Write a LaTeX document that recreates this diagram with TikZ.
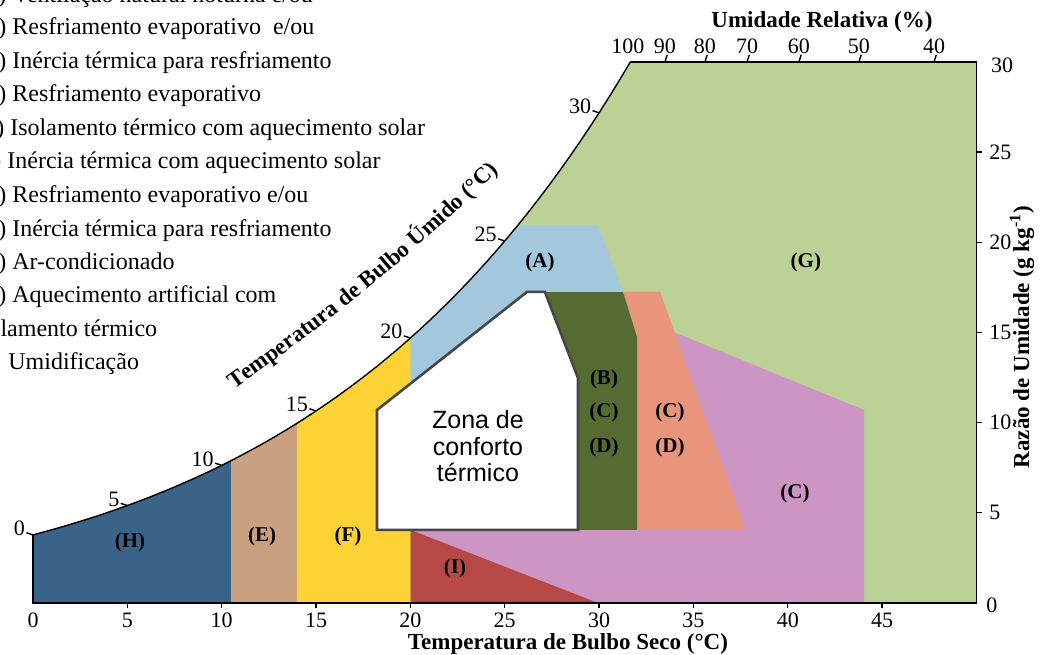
\documentclass[tikz,border=0pt]{standalone}
\usepackage{fontspec}
\setmainfont{Liberation Serif}
\newfontfamily\zonafont{Liberation Sans}
\usetikzlibrary{decorations.text}

\definecolor{corG}{RGB}{188,209,150}
\definecolor{corA}{RGB}{163,200,222}
\definecolor{corB}{RGB}{86,107,50}
\definecolor{corCD}{RGB}{233,149,123}
\definecolor{corC}{RGB}{205,149,196}
\definecolor{corE}{RGB}{201,161,129}
\definecolor{corF}{RGB}{252,210,52}
\definecolor{corH}{RGB}{58,99,136}
\definecolor{corI}{RGB}{182,72,70}

\begin{document}
\begin{tikzpicture}[x=9.435pt,y=9.015pt,
  declare function={psat(\t)=0.6108*exp(17.27*\t/(\t+237.3));
                    wsat(\t)=622*psat(\t)/(101.325-psat(\t));},
  frame/.style={black,line width=0.7pt},
  conforto/.style={fill=white,draw=gray!55!black,line width=1.3pt},
  zona/.style={font=\zonafont\fontsize{12.5}{13.3}\selectfont,align=center},
  regiao/.style={font=\bfseries\fontsize{10.5}{12}\selectfont},
  numero/.style={font=\fontsize{11}{12}\selectfont,inner sep=1pt},
  titulo/.style={font=\bfseries\fontsize{11.5}{13}\selectfont},
  legenda/.style={anchor=base west,inner sep=0pt,font=\fontsize{12}{14}\selectfont}]

\useasboundingbox (-1.749,-2.884) rectangle (53.42,33.44);

	% zonas bioclimaticas
\fill[corG] (0,0) -- plot[domain=0:31.65,samples=60] (\x,{wsat(\x)}) -- (50,30) -- (50,0) -- cycle;
\fill[corC] (20,4.05) -- (37.77,4.05) -- (34.0,15.0) -- (44.04,10.70) -- (44.04,0) -- (29.94,0) -- cycle;
\fill[corI] (20,4.05) -- (29.94,0) -- (20,0) -- cycle;
\fill[corCD] (31.27,17.25) -- (33.23,17.25) -- (37.77,4.05) -- (32.01,4.05) -- (32.01,14.75) -- cycle;
\fill[corB] (27.13,17.25) -- (31.27,17.25) -- (32.01,14.75) -- (32.01,4.05) -- (28.88,4.05) -- (28.88,12.48) -- cycle;
\fill[corA] (20,12.16) -- plot[domain=20:25.70,samples=20] (\x,{wsat(\x)}) -- (29.94,20.96) -- (31.27,17.25) -- (26.18,17.25) -- cycle;
\fill[corH] (0,0) -- plot[domain=0:10.5,samples=30] (\x,{wsat(\x)}) -- (10.5,0) -- cycle;
\fill[corE] (10.5,0) -- plot[domain=10.5:14,samples=15] (\x,{wsat(\x)}) -- (14,0) -- cycle;
\fill[corF] (14,0) -- plot[domain=14:20,samples=20] (\x,{wsat(\x)}) -- (20,0) -- cycle;

	% zona de conforto
\draw[conforto] (18.23,4.05) -- (18.23,10.70) -- (26.18,17.25) -- (27.13,17.25) -- (28.88,12.48) -- (28.88,4.05) -- cycle;
\node[zona] (zona) at (23.58,8.68) {Zona de\\conforto\\térmico};

	% contorno e curva de saturacao
\draw[frame] (0,{wsat(0)}) -- (0,0) -- (50,0) -- (50,30) -- (31.65,30);
\draw[frame] plot[domain=0:31.65,samples=60] (\x,{wsat(\x)});

	% eixo x
\foreach \t in {5,10,...,45}
  \draw[frame] (\t,0) -- (\t,-0.3);
\foreach \t in {0,5,...,45}
  \node[numero] (tbs\t) at (\t,-0.98) {\t};
\node[titulo] (tituloTBS) at (28.35,-2.25) {Temperatura de Bulbo Seco (°C)};

	% eixo da direita
\foreach \w in {5,10,...,25}{
  \draw[frame] (50,\w) -- (50.3,\w);
  \node[numero,anchor=west] (raz\w) at (50.55,\w) {\w};
}
\node[numero,anchor=west] (raz30) at (50.65,29.8) {30};
\node[numero,anchor=west] (raz0) at (50.4,-0.15) {0};
\node[titulo,rotate=90] (tituloRaz) at (52.41,14.75) {Razão de Umidade (g kg\textsuperscript{-1})};

	% umidade relativa
\foreach \ur/\t in {90/33.49,80/35.61,70/37.84,60/40.59,50/43.77,40/47.75}{
  \draw[frame] (\t,30) -- (\t+0.12,30.4);
  \node[numero] (ur\ur) at (\t,30.85) {\ur};
}
\node[numero] (ur100) at (31.53,30.85) {100};
\node[titulo] (tituloUR) at (41.81,32.22) {Umidade Relativa (\%)};

	% temperatura de bulbo umido
\foreach \t in {0,5,...,30}{
  \draw[frame] ({\t-0.35},{wsat(\t)+0.12}) -- (\t,{wsat(\t)});
  \node[numero,anchor=east] (tbu\t) at ({\t-0.3},{wsat(\t)+0.35}) {\t};
}
\path[decorate,decoration={text along path,text align=center,
  text={|\bfseries\fontsize{11.5}{13}\selectfont|Temperatura de Bulbo Úmido (°C)}}]
  (10.30,11.55) .. controls (15.50,15.40) and (20.45,19.50) .. (25.00,24.30);

	% letras das zonas
\node[regiao] (lA) at (26.87,18.91) {(A)};
\node[regiao] (lG) at (40.96,18.91) {(G)};
\node[regiao] (lB) at (30.26,12.37) {(B)};
\node[regiao] (lC1) at (30.26,10.59) {(C)};
\node[regiao] (lD1) at (30.26,8.65) {(D)};
\node[regiao] (lC2) at (33.76,10.59) {(C)};
\node[regiao] (lD2) at (33.76,8.65) {(D)};
\node[regiao] (lC3) at (40.38,6.05) {(C)};
\node[regiao] (lH) at (5.14,3.38) {(H)};
\node[regiao] (lE) at (12.14,3.66) {(E)};
\node[regiao] (lF) at (16.69,3.66) {(F)};
\node[regiao] (lI) at (22.36,1.89) {(I)};

	% legenda
\node[legenda] (leg1) at (-1.855,33.28) {) Ventilação natural noturna e/ou};
\node[legenda] (leg2) at (-1.855,31.50) {) Resfriamento evaporativo\ \ e/ou};
\node[legenda] (leg3) at (-1.855,29.62) {) Inércia térmica para resfriamento};
\node[legenda] (leg4) at (-1.855,27.79) {) Resfriamento evaporativo};
\node[legenda] (leg5) at (-1.96,25.90) {) Isolamento térmico com aquecimento solar};
\node[legenda] (leg6) at (-2.12,24.07) {) Inércia térmica com aquecimento solar};
\node[legenda] (leg7) at (-1.855,22.19) {) Resfriamento evaporativo e/ou};
\node[legenda] (leg8) at (-1.855,20.35) {) Inércia térmica para resfriamento};
\node[legenda] (leg9) at (-1.855,18.47) {) Ar-condicionado};
\node[legenda] (leg10) at (-1.855,16.64) {) Aquecimento artificial com};
\node[legenda] (leg11) at (-1.74,14.75) {lamento térmico};
\node[legenda] (leg12) at (-1.325,12.92) {Umidificação};

\end{tikzpicture}
\end{document}
